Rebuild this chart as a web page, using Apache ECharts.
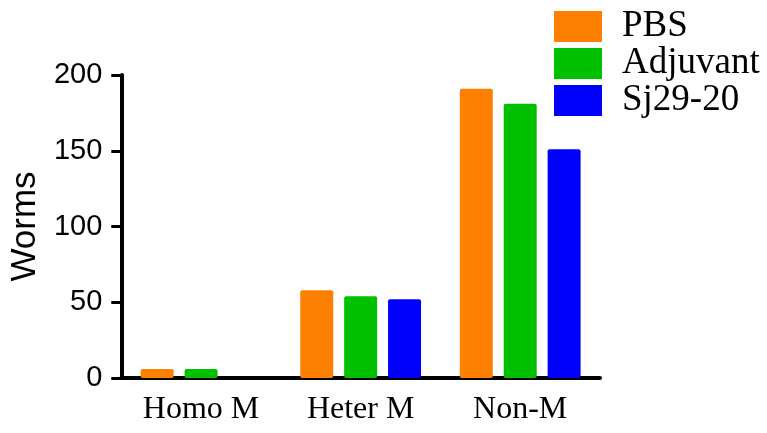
<!DOCTYPE html>
<html><head><meta charset="utf-8">
<script src="https://cdn.jsdelivr.net/npm/echarts@6/dist/echarts.min.js"></script>
<style>html,body{margin:0;padding:0;background:#fff}#c{width:767px;height:433px}</style>
</head><body><div id="c"></div>
<script>
const categories = ['Homo M', 'Heter M', 'Non-M'];
const seriesNames = ['PBS', 'Adjuvant', 'Sj29-20'];
const pbs = [6, 58, 191];
const adjuvant = [6, 54, 181];
const sj2920 = [0, 52, 151];
const colors = ['#FF8000', '#00C000', '#0000FF'];
const yTicks = [0, 50, 100, 150, 200];

const chart = echarts.init(document.getElementById('c'));
const values = [pbs, adjuvant, sj2920];
chart.setOption({
  animation: false,
  grid: { left: 120, right: 167, top: 75, bottom: 55 },
  legend: {
    orient: 'vertical', left: 549, top: 3,
    itemWidth: 48, itemHeight: 31, itemGap: 0,
    icon: 'rect',
    itemStyle: { borderRadius: 2 },
    textStyle: { fontFamily: 'Liberation Serif', fontSize: 37, lineHeight: 35, color: '#000', padding: [0, 0, 0, 15] },
    data: seriesNames
  },
  xAxis: {
    type: 'category', data: categories,
    axisLine: { lineStyle: { color: '#000', width: 4 } },
    axisTick: { alignWithLabel: true, length: 12, lineStyle: { color: '#000', width: 3 } },
    axisLabel: { fontFamily: 'Liberation Serif', fontSize: 32, color: '#000', margin: 16 }
  },
  yAxis: {
    type: 'value', min: 0, max: 200, interval: 50,
    name: 'Worms', nameLocation: 'middle', nameGap: 71,
    nameTextStyle: { fontFamily: 'Liberation Sans', fontSize: 35, color: '#000' },
    splitLine: { show: false },
    axisLine: { show: true, lineStyle: { color: '#000', width: 4 } },
    axisTick: { show: true, length: 10, lineStyle: { color: '#000', width: 3 } },
    axisLabel: { fontFamily: 'Liberation Sans', fontSize: 29, color: '#000', margin: 19,
      formatter: v => yTicks.includes(v) ? String(v) : '' }
  },
  series: seriesNames.map((n, i) => ({
    name: n, type: 'bar', data: values[i], barWidth: 33, barGap: '33%',
    itemStyle: { color: colors[i], borderRadius: 2 }
  }))
});
</script></body></html>
